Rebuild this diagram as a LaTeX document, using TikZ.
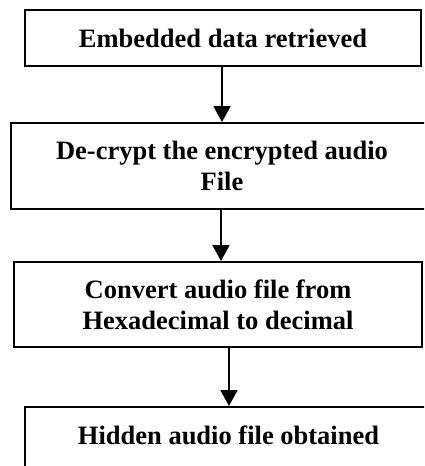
\documentclass[tikz,border=0pt]{standalone}
\usepackage{fontspec}
\setmainfont{Liberation Serif}
\usetikzlibrary{arrows.meta}
\tikzset{
  stepbox/.style={draw=black, line width=1pt, rectangle, inner sep=0pt, align=center,
    font=\bfseries\fontsize{13.25pt}{15.35pt}\selectfont},
  arr/.style={line width=1pt, -{Triangle[width=8.5pt,length=8pt]}}
}
\begin{document}
\begin{tikzpicture}[x=0.5pt,y=-0.5pt]
\clip (0,0) rectangle (424,466);
\fill[white] (0,0) rectangle (424,466);
\node[stepbox, minimum width=198pt, minimum height=28pt] (b1) at (223,38) {Embedded data retrieved};
\node[stepbox, minimum width=211pt, minimum height=43pt] (b2) at (222,166) {De-crypt the encrypted audio\\File};
\node[stepbox, minimum width=204pt, minimum height=42.5pt] (b3) at (218,304.5) {Convert audio file from\\Hexadecimal to decimal};
\node[stepbox, minimum width=203.5pt, text height=18.65pt, text depth=20pt, anchor=north] (b4) at (228.5,406) {Hidden audio file obtained};
\coordinate (x1) at (222,0);
\coordinate (x2) at (221,0);
\coordinate (x3) at (229,0);
\draw[arr] (b1.south -| x1) -- (b2.north -| x1);
\draw[arr] (b2.south -| x2) -- (b3.north -| x2);
\draw[arr] (b3.south -| x3) -- (b4.north -| x3);
\end{tikzpicture}
\end{document}
